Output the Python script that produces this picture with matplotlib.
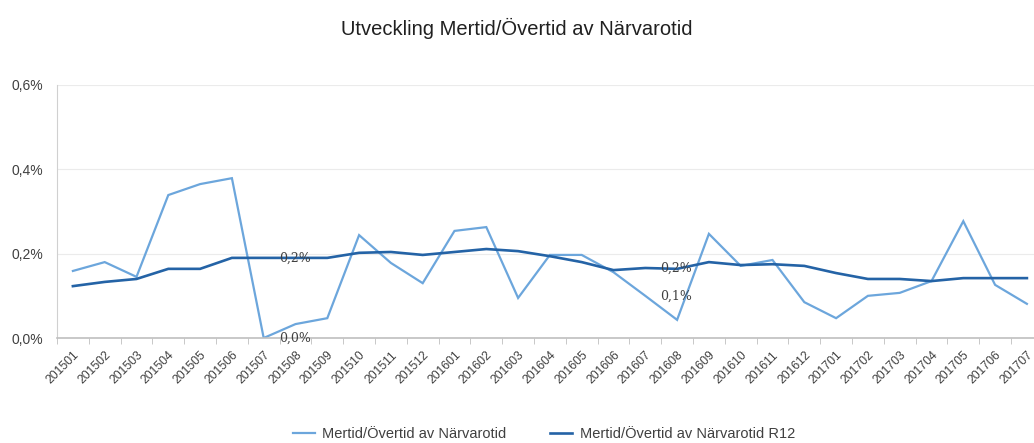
import matplotlib
matplotlib.use("Agg")
import matplotlib.pyplot as plt
from matplotlib.ticker import FuncFormatter, FixedLocator

plt.rcParams['font.family'] = ['Liberation Sans', 'DejaVu Sans']

months = ["201501", "201502", "201503", "201504", "201505", "201506", "201507",
          "201508", "201509", "201510", "201511", "201512", "201601", "201602",
          "201603", "201604", "201605", "201606", "201607", "201608", "201609",
          "201610", "201611", "201612", "201701", "201702", "201703", "201704",
          "201705", "201706", "201707"]

mertid = [0.159, 0.180, 0.145, 0.339, 0.365, 0.379, 0.000, 0.033, 0.047, 0.244,
          0.178, 0.130, 0.254, 0.263, 0.095, 0.197, 0.197, 0.156, 0.100, 0.043,
          0.247, 0.171, 0.185, 0.085, 0.047, 0.100, 0.107, 0.135, 0.277, 0.126,
          0.081]

mertid_r12 = [0.123, 0.133, 0.140, 0.164, 0.164, 0.190, 0.190, 0.190, 0.190, 0.202,
              0.204, 0.197, 0.204, 0.211, 0.206, 0.194, 0.180, 0.161, 0.166, 0.164,
              0.180, 0.173, 0.175, 0.171, 0.154, 0.140, 0.140, 0.135, 0.142, 0.142,
              0.142]

label_months = ["201507", "201607"]

title = "Utveckling Mertid/Övertid av Närvarotid"
name1 = "Mertid/Övertid av Närvarotid"
name2 = "Mertid/Övertid av Närvarotid R12"

light = "#6CA6DC"
dark = "#2463A6"

W, H = 1034, 443
fig = plt.figure(figsize=(W / 100, H / 100), dpi=100)
x0, step = 57, 31.8
ax = fig.add_axes([x0 / W, (H - 338) / H, len(months) * step / W, 253 / H])

xs = list(range(len(months)))
l1, = ax.plot(xs, mertid, color=light, lw=1.6, solid_joinstyle='miter')
l2, = ax.plot(xs, mertid_r12, color=dark, lw=1.9, solid_joinstyle='miter')

for m in label_months:
    i = months.index(m)
    for vals in (mertid, mertid_r12):
        v = vals[i]
        ax.annotate(f"{v:.1f}%".replace('.', ','), (i, v), xytext=(11, 0),
                    textcoords='offset points', ha='left', va='center',
                    fontsize=9, color='#404040', family='DejaVu Serif')

ax.set_xlim(-0.5, len(months) - 0.5)
ax.set_ylim(0, 0.6)
ax.set_yticks([0, 0.2, 0.4, 0.6])
ax.yaxis.set_major_formatter(FuncFormatter(lambda v, p: f"{v:.1f}%".replace('.', ',')))
ax.set_xticks(xs)
ax.set_xticklabels(months, rotation=45, ha='right', rotation_mode='anchor', fontsize=8.8, color='#404040')
ax.tick_params(axis='x', which='major', length=0, pad=8)
ax.xaxis.set_minor_locator(FixedLocator([i - 0.5 for i in range(len(months) + 1)]))
ax.tick_params(axis='x', which='minor', length=4, color='#BFBFBF', direction='out')
ax.tick_params(axis='y', length=0, labelsize=10, labelcolor='#404040', pad=10)

ax.grid(axis='y', color='#EBEBEB', lw=0.8)
ax.set_axisbelow(True)
for s in ('top', 'right'):
    ax.spines[s].set_visible(False)
ax.spines['left'].set_color('#D0D0D0')
ax.spines['bottom'].set_color('#BFBFBF')
ax.spines['bottom'].set_linewidth(1.2)

fig.text(517 / W, 1 - 28 / H, title, ha='center', va='center', fontsize=14.5,
         color='#202020')

fig.legend([l1, l2], [name1, name2], loc='center', bbox_to_anchor=(544 / W, 1 - 434 / H),
           ncol=2, frameon=False, fontsize=10.5, handlelength=1.5, columnspacing=3,
           handletextpad=0.5, labelcolor='#404040')

fig.savefig("out.png", dpi=100)
